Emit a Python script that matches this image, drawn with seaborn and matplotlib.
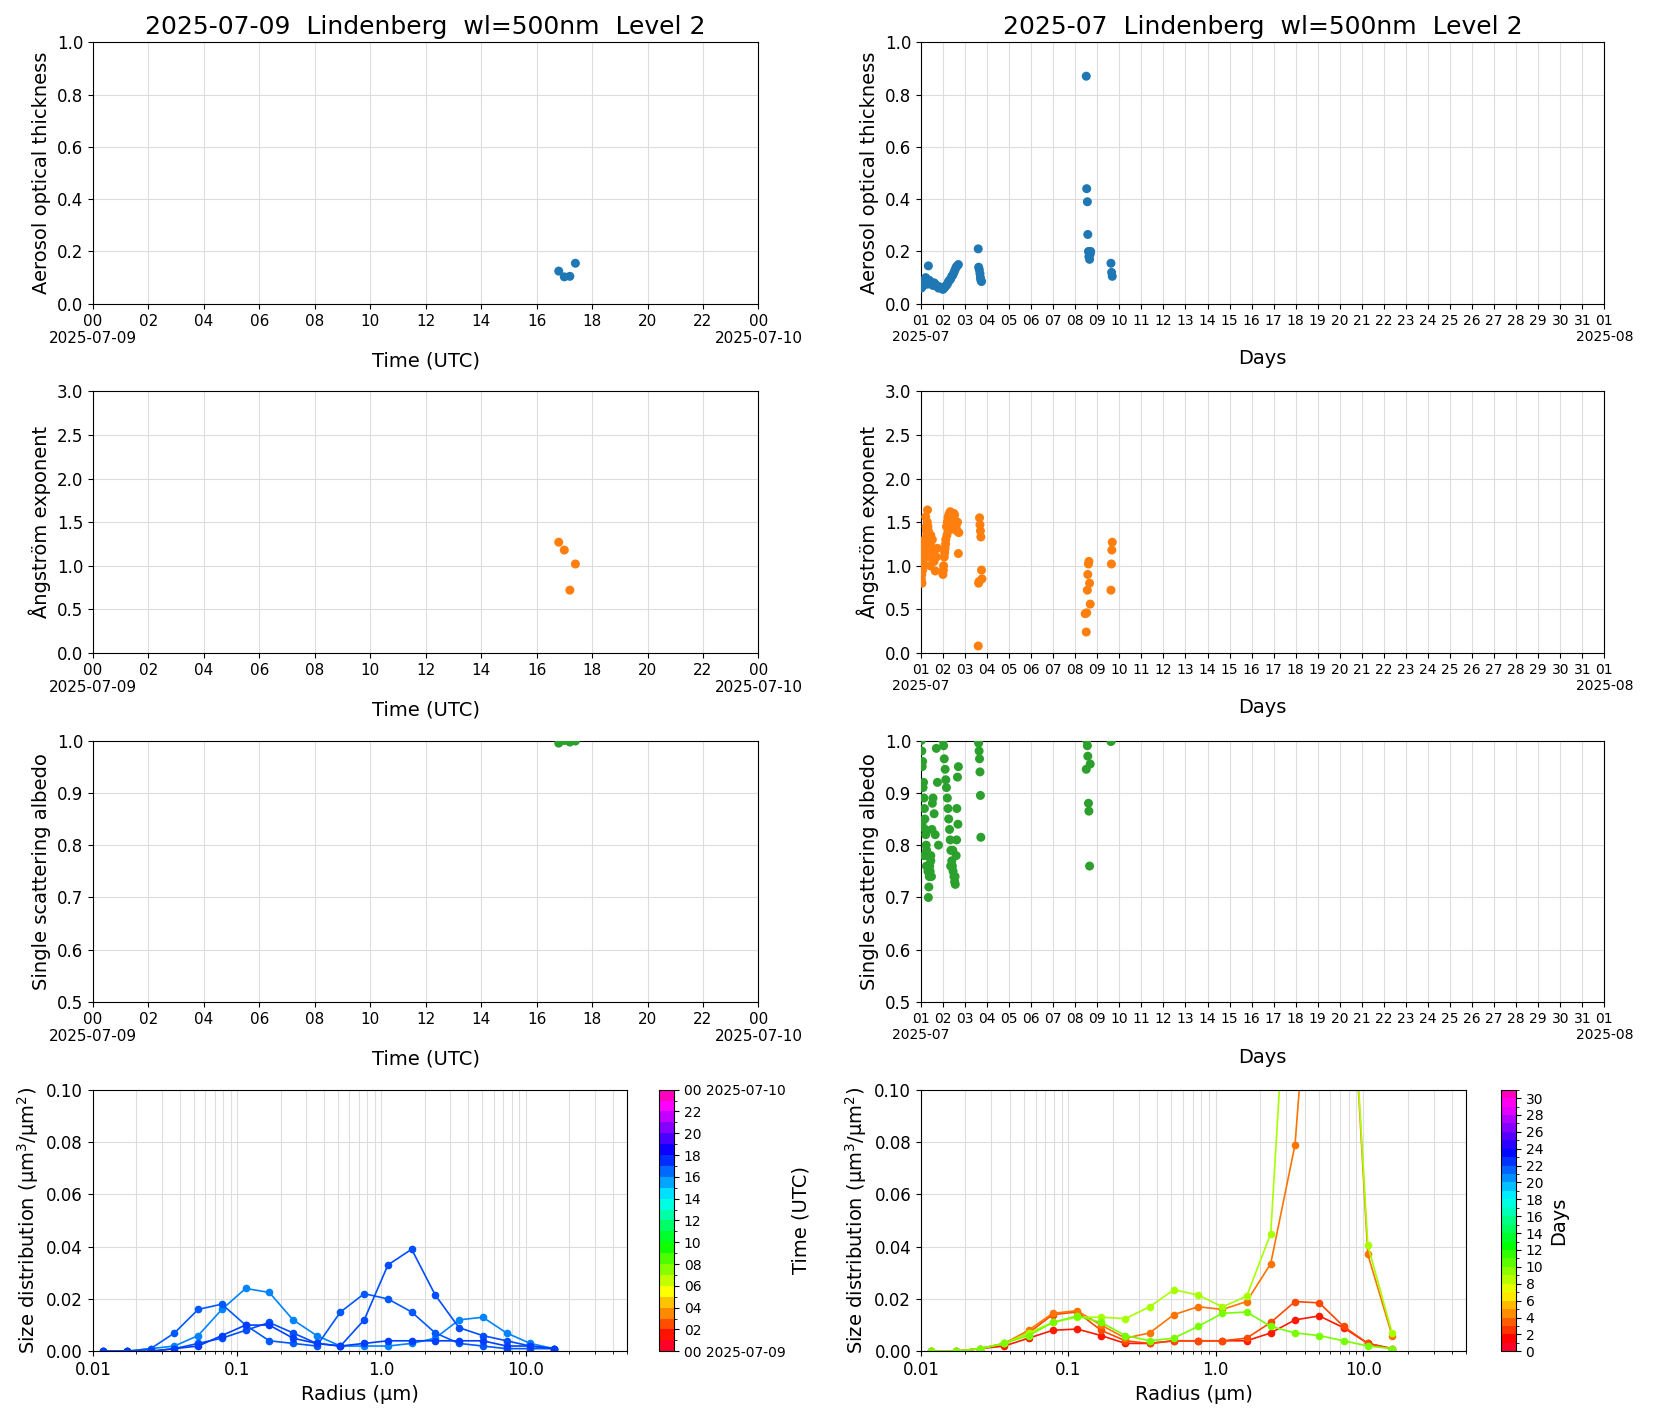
import numpy as np
import pandas as pd
import matplotlib
matplotlib.use("Agg")
import matplotlib.pyplot as plt
import matplotlib.colors as mcolors
import seaborn as sns

# ---- daily panel data (hours UTC, 2025-07-09) ----
day_hours = [16.8, 17.0, 17.2, 17.4]
day_aod = [0.125, 0.103, 0.105, 0.155]
day_ae = [1.27, 1.18, 0.72, 1.02]
day_ssa = [0.995, 1.0, 0.997, 0.999]

# ---- monthly panel data (day of month, July 2025) ----
mon_aod_days = [1.02, 1.06, 1.1, 1.14, 1.18, 1.22, 1.26, 1.3, 1.34, 1.38, 1.42, 1.46, 1.5, 1.55, 1.6, 1.65, 1.7, 1.75, 1.8, 1.85,
                2.0, 2.05, 2.1, 2.15, 2.2, 2.25, 2.3, 2.35, 2.4, 2.45, 2.5, 2.55, 2.6, 2.65, 2.7,
                3.6, 3.62, 3.65, 3.68, 3.7, 3.72, 3.75,
                8.5, 8.52, 8.55, 8.57, 8.6, 8.62, 8.65, 8.68, 8.7,
                9.62, 9.65, 9.68]
mon_aod = [0.06, 0.065, 0.07, 0.08, 0.09, 0.1, 0.085, 0.075, 0.145, 0.09, 0.085, 0.08, 0.075, 0.07, 0.08, 0.075, 0.07, 0.065, 0.06, 0.065,
           0.055, 0.06, 0.065, 0.07, 0.075, 0.085, 0.09, 0.095, 0.105, 0.11, 0.12, 0.13, 0.14, 0.145, 0.15,
           0.21, 0.14, 0.13, 0.115, 0.1, 0.09, 0.085,
           0.87, 0.44, 0.39, 0.265, 0.2, 0.18, 0.17, 0.19, 0.2,
           0.155, 0.12, 0.105]

mon_ae_days = [1.02, 1.05, 1.08, 1.1, 1.13, 1.15, 1.18, 1.2, 1.22, 1.25, 1.27, 1.3, 1.32, 1.35, 1.38, 1.4, 1.43, 1.45, 1.48, 1.5, 1.55, 1.6, 1.65, 1.7, 1.75,
               1.04, 1.07, 1.12, 1.17, 1.24, 1.29, 1.34, 1.42, 1.47, 1.52,
               2.0, 2.03, 2.06, 2.1, 2.13, 2.16, 2.2, 2.23, 2.26, 2.3, 2.33, 2.36, 2.4, 2.43, 2.46, 2.5, 2.53, 2.56, 2.6, 2.63, 2.66, 2.7, 2.72,
               2.02, 2.08, 2.12, 2.18, 2.24, 2.28, 2.38,
               3.6, 3.62, 3.64, 3.66, 3.68, 3.7, 3.72, 3.75, 3.77,
               8.45, 8.5, 8.52, 8.55, 8.57, 8.6, 8.62, 8.65, 8.68,
               9.62, 9.64, 9.66, 9.68]
mon_ae = [0.85, 0.8, 0.95, 1.05, 1.1, 1.2, 1.3, 1.25, 1.56, 1.4, 1.35, 1.64, 1.45, 1.3, 1.2, 1.1, 1.25, 1.35, 1.3, 1.2, 1.15, 1.05, 0.94, 1.1, 1.2,
          0.9, 1.0, 1.15, 1.25, 1.45, 1.5, 1.4, 1.0, 1.1, 1.3,
          0.9, 1.0, 1.1, 1.2, 1.3, 1.45, 1.5, 1.55, 1.58, 1.6, 1.62, 1.55, 1.5, 1.45, 1.55, 1.6, 1.58, 1.5, 1.45, 1.4, 1.5, 1.14, 1.38,
          0.95, 1.15, 1.25, 1.35, 1.4, 1.5, 1.42,
          0.08, 0.8, 0.82, 1.55, 1.47, 1.4, 1.33, 0.95, 0.85,
          0.45, 0.24, 0.46, 0.72, 0.9, 1.02, 1.05, 0.8, 0.56,
          0.72, 1.02, 1.18, 1.27]

mon_ssa_days = [1.02, 1.04, 1.06, 1.08, 1.1, 1.12, 1.14, 1.16, 1.18, 1.2, 1.22, 1.24, 1.26, 1.28, 1.3, 1.32, 1.34, 1.36, 1.38, 1.4, 1.42, 1.45, 1.48, 1.5, 1.55, 1.6, 1.65, 1.7, 1.75, 1.8,
                1.05, 1.15, 1.25, 1.35, 1.45, 1.52,
                2.0, 2.03, 2.06, 2.1, 2.13, 2.16, 2.2, 2.23, 2.26, 2.3, 2.33, 2.36, 2.4, 2.43, 2.46, 2.5, 2.53, 2.56, 2.6, 2.63, 2.66, 2.7,
                2.35, 2.45, 2.55, 2.62, 2.68,
                3.6, 3.62, 3.64, 3.66, 3.68, 3.7, 3.72,
                8.5, 8.52, 8.55, 8.57, 8.6, 8.62, 8.65, 8.68,
                9.62, 9.65]
mon_ssa = [1.0, 0.98, 0.95, 0.96, 0.91, 0.92, 0.89, 0.87, 0.85, 0.83, 0.82, 0.8, 0.79, 0.78, 0.76, 0.75, 0.7, 0.72, 0.74, 0.76, 0.75, 0.77, 0.74, 0.83, 0.89, 0.86, 0.82, 0.985, 0.92, 0.8,
           0.84, 0.78, 0.76, 0.75, 0.78, 0.88,
           1.0, 0.99, 0.965, 0.945, 0.925, 0.91, 0.89, 0.87, 0.85, 0.83, 0.81, 0.79, 0.77, 0.76, 0.75, 0.74, 0.73, 0.725, 0.78, 0.87, 0.93, 0.95,
           0.76, 0.79, 0.74, 0.81, 0.84,
           1.0, 0.995, 0.98, 0.965, 0.94, 0.895, 0.815,
           0.945, 1.0, 0.99, 0.97, 0.88, 0.865, 0.76, 0.955,
           0.998, 1.0]

# ---- size distributions ----
radius = [0.0118, 0.0172, 0.0252, 0.0368, 0.0537, 0.0784, 0.1145, 0.167, 0.244, 0.356, 0.52, 0.76, 1.11, 1.62, 2.36, 3.45, 5.04, 7.36, 10.75, 15.7]

day_sd_hours = [16.2, 16.9, 17.1, 17.4]
day_sd = [
    [0.0, 0.0, 0.001, 0.002, 0.006, 0.016, 0.024, 0.0225, 0.012, 0.006, 0.002, 0.002, 0.002, 0.003, 0.005, 0.012, 0.013, 0.007, 0.003, 0.001],
    [0.0, 0.0, 0.001, 0.007, 0.016, 0.018, 0.010, 0.004, 0.003, 0.002, 0.015, 0.022, 0.020, 0.015, 0.007, 0.003, 0.002, 0.001, 0.001, 0.001],
    [0.0, 0.0, 0.0, 0.001, 0.003, 0.005, 0.008, 0.011, 0.007, 0.003, 0.002, 0.012, 0.033, 0.039, 0.0215, 0.009, 0.006, 0.004, 0.002, 0.001],
    [0.0, 0.0, 0.0, 0.001, 0.002, 0.006, 0.010, 0.010, 0.005, 0.003, 0.002, 0.003, 0.004, 0.004, 0.004, 0.004, 0.004, 0.002, 0.002, 0.001],
]

mon_sd_days = [1.5, 2.6, 3.6, 8.6, 9.7]
mon_sd = [
    [0.0, 0.0, 0.001, 0.002, 0.005, 0.008, 0.0085, 0.006, 0.003, 0.003, 0.004, 0.004, 0.004, 0.004, 0.007, 0.012, 0.0135, 0.009, 0.003, 0.001],
    [0.0, 0.0, 0.001, 0.003, 0.007, 0.014, 0.015, 0.008, 0.004, 0.003, 0.004, 0.004, 0.004, 0.005, 0.011, 0.019, 0.0185, 0.0095, 0.003, 0.001],
    [0.0, 0.0, 0.001, 0.003, 0.008, 0.0145, 0.0155, 0.010, 0.005, 0.007, 0.014, 0.017, 0.016, 0.019, 0.0335, 0.079, 0.2, 0.2, 0.037, 0.006],
    [0.0, 0.0, 0.001, 0.003, 0.007, 0.011, 0.013, 0.013, 0.0125, 0.017, 0.0235, 0.0215, 0.017, 0.021, 0.045, 0.2, 0.2, 0.2, 0.0405, 0.007],
    [0.0, 0.0, 0.001, 0.003, 0.006, 0.011, 0.0135, 0.011, 0.006, 0.004, 0.005, 0.0095, 0.0145, 0.015, 0.0095, 0.007, 0.006, 0.004, 0.002, 0.001],
]

cmap = plt.get_cmap("gist_rainbow")
fig = plt.figure(figsize=(16.54, 14.2), dpi=100)
W, H = 1654, 1420
S = 1654 / 1568  # layout measured on a scaled view


def add_ax(x0, y0, x1, y1):
    x0, y0, x1, y1 = x0 * S, y0 * S, x1 * S, y1 * S
    return fig.add_axes([x0 / W, 1 - y1 / H, (x1 - x0) / W, (y1 - y0) / H])


rows = [(40, 288), (371, 619), (702, 950)]
ylabels = ["Aerosol optical thickness", "Ångström exponent", "Single scattering albedo"]
ylims = [(0, 1), (0, 3), (0.5, 1)]
colors = ["#1f77b4", "#ff7f0e", "#2ca02c"]
day_vals = [day_aod, day_ae, day_ssa]
mon_vals = [(mon_aod_days, mon_aod), (mon_ae_days, mon_ae), (mon_ssa_days, mon_ssa)]
MS = 42

for i, (y0, y1) in enumerate(rows):
    # left: single day
    ax = add_ax(88, y0, 719, y1)
    sns.scatterplot(x=day_hours, y=day_vals[i], color=colors[i], s=MS, edgecolor="none", ax=ax, zorder=3)
    ax.set_xlim(0, 24)
    ax.set_ylim(*ylims[i])
    ax.set_xticks(range(0, 25, 2))
    xl = [f"{h:02d}" for h in range(0, 24, 2)] + ["00"]
    xl[0] = "00\n2025-07-09"
    xl[-1] = "00\n2025-07-10"
    ax.set_xticklabels(xl, fontsize=11)
    ax.tick_params(axis="y", labelsize=12)
    ax.set_xlabel("Time (UTC)", fontsize=14)
    ax.set_ylabel(ylabels[i], fontsize=14)
    ax.grid(color="#dddddd")
    ax.set_axisbelow(True)
    if i == 0:
        ax.set_title("2025-07-09  Lindenberg  wl=500nm  Level 2", fontsize=18)

    # right: month
    ax = add_ax(873, y0, 1521, y1)
    sns.scatterplot(x=mon_vals[i][0], y=mon_vals[i][1], color=colors[i], s=MS, edgecolor="none", ax=ax, zorder=3)
    ax.set_xlim(1, 32)
    ax.set_ylim(*ylims[i])
    ax.set_xticks(range(1, 33))
    xl = [f"{d:02d}" for d in range(1, 32)] + ["01"]
    xl[0] = "01\n2025-07"
    xl[-1] = "01\n2025-08"
    ax.set_xticklabels(xl, fontsize=10)
    ax.tick_params(axis="y", labelsize=12)
    ax.set_xlabel("Days", fontsize=14)
    ax.set_ylabel(ylabels[i], fontsize=14)
    ax.grid(color="#dddddd")
    ax.set_axisbelow(True)
    if i == 0:
        ax.set_title("2025-07  Lindenberg  wl=500nm  Level 2", fontsize=18)


def size_panel(ax, curves, tvals, norm):
    for t, vals in zip(tvals, curves):
        c = cmap(norm(t))
        sns.lineplot(x=radius, y=vals, color=c, marker="o", markersize=5.5, markeredgewidth=0, lw=1.2, ax=ax)
    ax.set_xscale("log")
    ax.set_xlim(0.01, 50)
    ax.set_ylim(0, 0.1)
    ax.set_xticks([0.01, 0.1, 1.0, 10.0])
    ax.set_xticklabels(["0.01", "0.1", "1.0", "10.0"], fontsize=12)
    ax.tick_params(axis="y", labelsize=12)
    ax.set_xlabel("Radius (µm)", fontsize=14)
    ax.set_ylabel("Size distribution (µm$^3$/µm$^2$)", fontsize=14)
    ax.grid(which="both", color="#dddddd")
    ax.set_axisbelow(True)


# bottom left
ax = add_ax(88, 1033, 594, 1281)
norm_h = mcolors.BoundaryNorm(np.arange(0, 25), 256)
size_panel(ax, day_sd, day_sd_hours, lambda t: t / 24)
cax = add_ax(625, 1033, 639, 1281)
cb = fig.colorbar(plt.cm.ScalarMappable(norm=norm_h, cmap=cmap), cax=cax, ticks=range(0, 25, 2))
cl = [f"{h:02d}" for h in range(0, 24, 2)] + ["00 2025-07-10"]
cl[0] = "00 2025-07-09"
cb.ax.set_yticklabels(cl, fontsize=10)
cb.set_label("Time (UTC)", fontsize=14)

# bottom right
ax = add_ax(873, 1033, 1390, 1281)
norm_d = mcolors.BoundaryNorm(np.arange(0, 32), 256)
size_panel(ax, mon_sd, mon_sd_days, lambda t: t / 31)
cax = add_ax(1423, 1033, 1437, 1281)
cb = fig.colorbar(plt.cm.ScalarMappable(norm=norm_d, cmap=cmap), cax=cax, ticks=range(0, 31, 2))
cb.ax.tick_params(labelsize=10)
cb.set_label("Days", fontsize=14)

fig.savefig("out.png", dpi=100)
